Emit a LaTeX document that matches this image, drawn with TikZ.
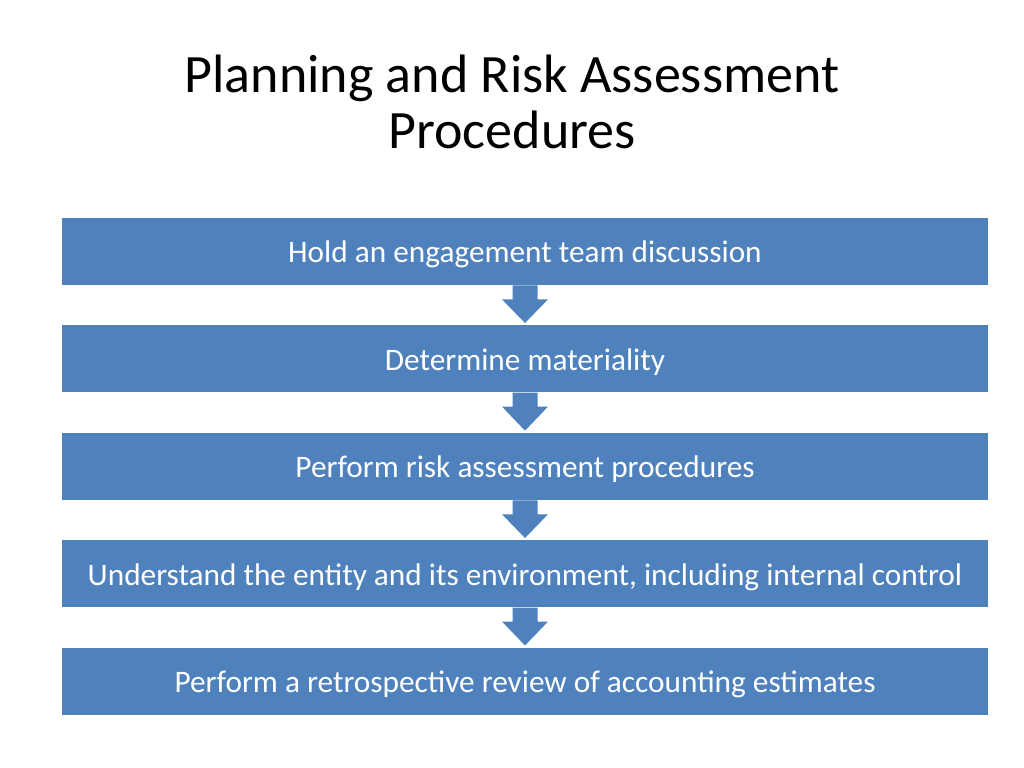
\documentclass[tikz,border=0pt]{standalone}
\usepackage{fontspec}
\setmainfont{Carlito}
\usetikzlibrary{calc}
\definecolor{boxblue}{HTML}{4F81BD}
\begin{document}
\begin{tikzpicture}[x=0.703125pt,y=-0.703125pt,
  titletext/.style={font=\fontsize{38}{46}\selectfont, anchor=base, inner sep=0pt},
  stepbox/.style={fill=boxblue, minimum width=651.1pt, minimum height=47.1pt, inner sep=0pt,
    text=white, font=\fontsize{22}{26}\selectfont, text height=18pt, text depth=2pt},
  flowarrow/.style={fill=boxblue}]
\useasboundingbox (0,0) rectangle (1024,768);
\node[titletext] (t1) at (512,92.5) {Planning and Risk Assessment};
\node[titletext] (t2) at (512,149) {Procedures};
\node[stepbox] (b1) at (525,251.6) {Hold an engagement team discussion};
\node[stepbox] (b2) at (525,358.8) {Determine materiality};
\node[stepbox] (b3) at (525,466.5) {Perform risk assessment procedures};
\node[stepbox] (b4) at (525,573.8) {Understand the entity and its environment, including internal control};
\node[stepbox] (b5) at (525,681.2) {Perform a retrospective review of accounting estimates};
\foreach \a/\b in {b1/b2,b2/b3,b3/b4,b4/b5}{
  \fill[flowarrow] ($(\a.south)+(-12.5,0)$) -- ($(\a.south)+(-12.5,14)$) -- ($(\a.south)+(-23,14)$)
    -- ($(\b.north)+(0,-2)$) -- ($(\a.south)+(23,14)$) -- ($(\a.south)+(12.5,14)$)
    -- ($(\a.south)+(12.5,0)$) -- cycle;
}
\end{tikzpicture}
\end{document}
